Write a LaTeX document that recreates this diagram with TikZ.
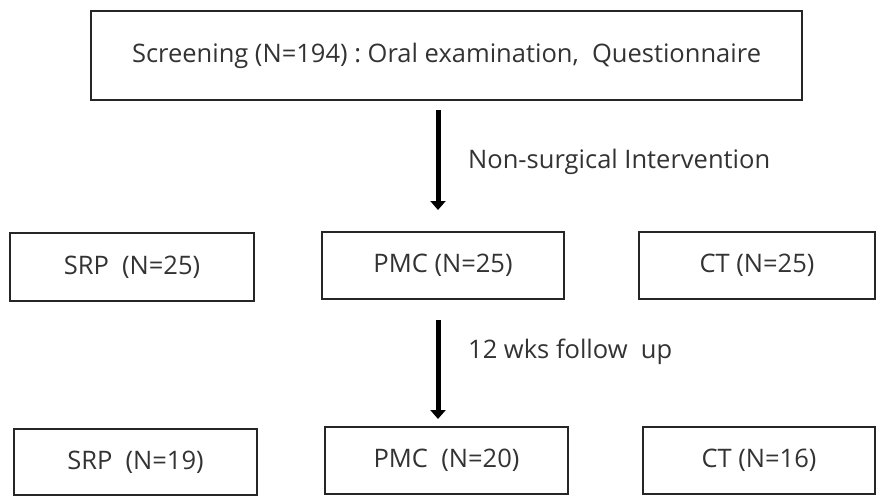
\documentclass[tikz,border=0pt]{standalone}
\usepackage{fontspec}
\setmainfont{Open Sans}
\usetikzlibrary{arrows.meta}
\begin{document}
\begin{tikzpicture}[x=1pt,y=-1pt,
  box/.style={draw=black!85, line width=1.6pt, inner sep=0pt, align=center,
    font=\fontsize{25.5}{30}\selectfont, text=black!80},
  flow/.style={line width=5pt, -{Triangle[length=9pt,width=15pt]}},
  lbl/.style={anchor=west, inner sep=0pt, font=\fontsize{25.5}{30}\selectfont, text=black!80}]
\useasboundingbox (0,0) rectangle (876,496);
\fill[white] (0,0) rectangle (876,496);

\node[box, minimum width=711pt, minimum height=89pt] (top) at (446.5,55.5)
  {Screening (N=194)\ :\ Oral examination,\ \ Questionnaire};

\node[box, minimum width=244pt, minimum height=68pt] (srp1) at (132,267) {SRP\ \ (N=25)};
\node[box, minimum width=242pt, minimum height=67pt] (pmc1) at (443,265.5) {PMC (N=25)};
\node[box, minimum width=236pt, minimum height=67pt] (ct1) at (757,265.5) {CT (N=25)};

\node[box, minimum width=243pt, minimum height=66pt] (srp2) at (135.5,462) {\raisebox{-5pt}{SRP\ \ (N=19)}};
\node[box, minimum width=243pt, minimum height=67pt] (pmc2) at (446.5,460.5) {\raisebox{-5pt}{PMC\ \ (N=20)}};
\node[box, minimum width=232pt, minimum height=67pt] (ct2) at (759,460.5) {\raisebox{-5pt}{CT (N=16)}};

\coordinate (a1s) at (438,110);
\coordinate (a1e) at (438,210);
\coordinate (a2s) at (438,320);
\coordinate (a2e) at (438,419);
\draw[flow] (a1s) -- (a1e);
\draw[flow] (a2s) -- (a2e);

\node[lbl] (l1) at (468,162) {Non-surgical\ Intervention};
\node[lbl] (l2) at (468,352) {12 wks follow\ \ up};
\end{tikzpicture}
\end{document}
